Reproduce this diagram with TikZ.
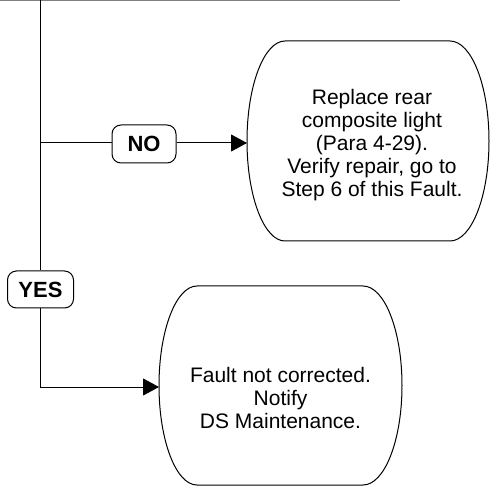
\documentclass[tikz,border=0pt]{standalone}
\usepackage{fontspec}
\setmainfont{Liberation Sans}
\usetikzlibrary{arrows.meta}
\tikzset{
  conn/.style={line width=1pt, draw=black},
  arr/.style={conn, -{Triangle[length=16pt,width=17pt]}},
  outline/.style={line width=1pt, draw=black},
  lbl/.style={draw=black, line width=1pt, rounded corners=9pt, minimum width=64pt, minimum height=38pt, inner sep=0pt, font=\bfseries\fontsize{22}{24}\selectfont},
  boxtext/.style={align=center, inner sep=0pt, font=\fontsize{21}{23}\selectfont}
}
\begin{document}
\begin{tikzpicture}[x=1pt,y=-1pt]
\useasboundingbox (0,0) rectangle (490,486);
% top line
\draw[line width=1pt, draw=gray] (0,0.5) -- (400,0.5);
% box 1 outline
\draw[outline] (285,41) -- (450,41) arc[start angle=-90, end angle=90, x radius=39, y radius=100]
  -- (285,241) arc[start angle=90, end angle=270, x radius=38, y radius=100] -- cycle;
% box 2 outline
\draw[outline] (197,286) -- (363,286) arc[start angle=-90, end angle=90, x radius=39, y radius=99.5]
  -- (197,485) arc[start angle=90, end angle=270, x radius=38, y radius=99.5] -- cycle;
% texts
\node[boxtext] (t1) at (372,145.5) {Replace rear\\composite light\\(Para 4-29).\\Verify repair, go to\\Step 6 of this Fault.};
\node[boxtext] (t2) at (280.5,398.4) {Fault not corrected.\\Notify\\DS Maintenance.};
\coordinate (b1w) at (247,143);
\coordinate (b2w) at (159,387);
% labels
\node[lbl] (no) at (144,144) {NO};
\node[lbl, minimum width=66pt, minimum height=37pt] (yes) at (40.5,289.5) {YES};
% connectors
\coordinate (top) at (40.5,0);
\coordinate (j1) at (40.5,143);
\coordinate (j2) at (40.5,387);
\draw[conn] (top) -- (yes.north);
\draw[conn] (j1) -- (no.west |- j1);
\draw[arr] (no.east |- j1) -- (b1w);
\draw[arr] (yes.south) -- (j2) -- (b2w);
\end{tikzpicture}
\end{document}
